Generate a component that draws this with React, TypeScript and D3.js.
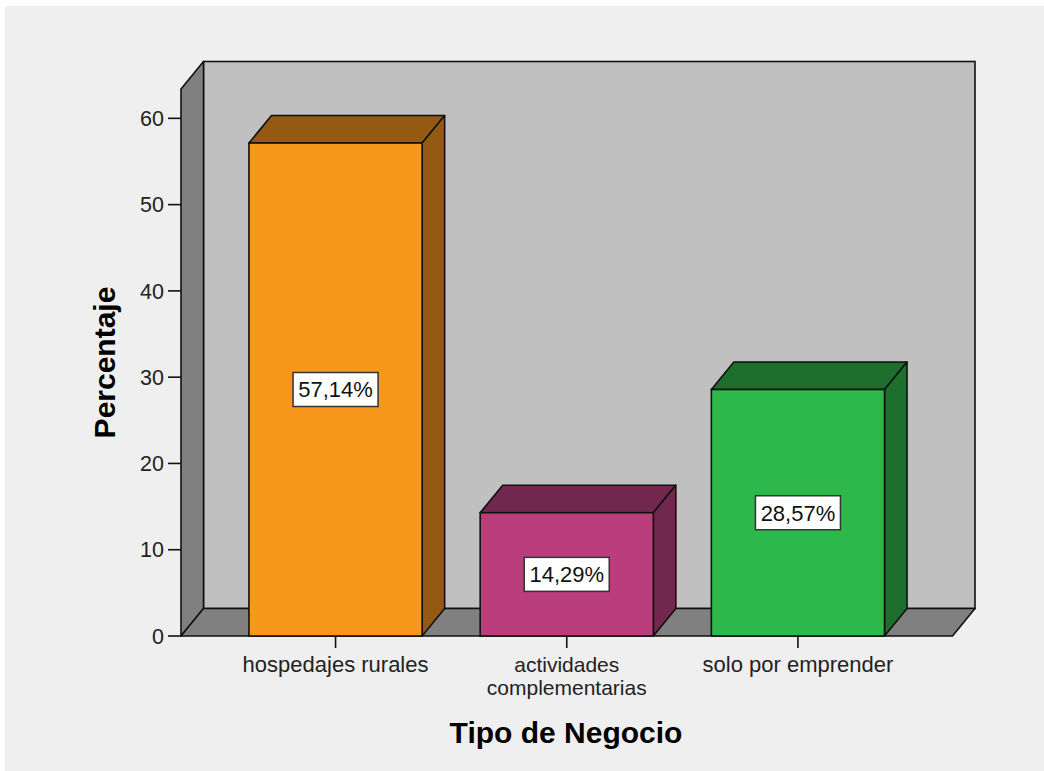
import React from "react";
import * as d3 from "d3";

const categories: string[][] = [["hospedajes rurales"], ["actividades", "complementarias"], ["solo por emprender"]];
const values: number[] = [57.14, 14.29, 28.57];
const valueLabels: string[] = ["57,14%", "14,29%", "28,57%"];
const yTicks: number[] = [0, 10, 20, 30, 40, 50, 60];
const frontColors: string[] = ["#F7981D", "#BB3E7C", "#2DB84B"];
const sideColors: string[] = ["#955A11", "#72284E", "#1E6F2E"];

const W = 1044;
const H = 771;
const DX = 22.5;
const DY = -27.5;
const FONT = "'Liberation Sans', Arial, sans-serif";

export default function App() {
  const y = d3.scaleLinear().domain([0, 63.4]).range([636, 89]);
  const x = d3
    .scaleBand<number>()
    .domain(values.map((_, i) => i))
    .range([181, 952.5])
    .paddingInner(0.251)
    .paddingOuter(0.294);

  const x0 = 181;
  const x1 = 952.5;
  const yb = y(0);
  const yt = y(63.4);
  const pts = (p: number[][]) => p.map((q) => q.join(",")).join(" ");
  const stroke = "#111";
  const sw = 1.6;

  return (
    <div style={{ position: "absolute", left: 0, top: 0 }}>
      <svg width={W} height={H} style={{ display: "block" }}>
        <rect x={0} y={0} width={W} height={H} fill="#ffffff" />
        <rect x={5} y={6} width={W - 5} height={H - 6} fill="#EFEFEF" />
        {/* back wall */}
        <rect x={x0 + DX} y={yt + DY} width={x1 - x0} height={yb - yt} fill="#C0C0C0" stroke={stroke} strokeWidth={sw} />
        {/* left wall */}
        <polygon points={pts([[x0, yt], [x0 + DX, yt + DY], [x0 + DX, yb + DY], [x0, yb]])} fill="#808080" stroke={stroke} strokeWidth={sw} strokeLinejoin="round" />
        {/* floor */}
        <polygon points={pts([[x0, yb], [x0 + DX, yb + DY], [x1 + DX, yb + DY], [x1, yb]])} fill="#808080" stroke={stroke} strokeWidth={sw} strokeLinejoin="round" />
        {/* y axis ticks */}
        {yTicks.map((t) => (
          <g key={t}>
            <line x1={x0 - 13} x2={x0} y1={y(t)} y2={y(t)} stroke={stroke} strokeWidth={sw} />
            <text x={x0 - 17} y={y(t)} dy="0.36em" textAnchor="end" fontFamily={FONT} fontSize={21.5} fill="#222">
              {t}
            </text>
          </g>
        ))}
        {/* bars */}
        {values.map((v, i) => {
          const bx = x(i)!;
          const bw = x.bandwidth();
          const top = y(v);
          const cx = bx + bw / 2;
          const my = y(v / 2);
          const lines = categories[i];
          const fs = lines.length > 1 ? 21 : 22;
          return (
            <g key={i}>
              <polygon points={pts([[bx, top], [bx + DX, top + DY], [bx + bw + DX, top + DY], [bx + bw, top]])} fill={sideColors[i]} stroke={stroke} strokeWidth={sw} strokeLinejoin="round" />
              <polygon points={pts([[bx + bw, top], [bx + bw + DX, top + DY], [bx + bw + DX, yb + DY], [bx + bw, yb]])} fill={sideColors[i]} stroke={stroke} strokeWidth={sw} strokeLinejoin="round" />
              <rect x={bx} y={top} width={bw} height={yb - top} fill={frontColors[i]} stroke={stroke} strokeWidth={sw} />
              <rect x={cx - 42.5} y={my - 17} width={85} height={34} fill="#ffffff" stroke="#333" strokeWidth={1.5} />
              <text x={cx} y={my} dy="0.36em" textAnchor="middle" fontFamily={FONT} fontSize={22} fill="#111">
                {valueLabels[i]}
              </text>
              <line x1={cx} x2={cx} y1={yb} y2={yb + 12} stroke={stroke} strokeWidth={sw} />
              {lines.map((line, j) => (
                <text key={j} x={cx} y={672 + j * 23} textAnchor="middle" fontFamily={FONT} fontSize={fs} fill="#222">
                  {line}
                </text>
              ))}
            </g>
          );
        })}
        {/* axis titles */}
        <text transform="translate(115,362.5) rotate(-90)" textAnchor="middle" fontFamily={FONT} fontSize={30} fontWeight="bold" fill="#000">
          Percentaje
        </text>
        <text x={566} y={743} textAnchor="middle" fontFamily={FONT} fontSize={30} fontWeight="bold" fill="#000">
          Tipo de Negocio
        </text>
      </svg>
    </div>
  );
}
